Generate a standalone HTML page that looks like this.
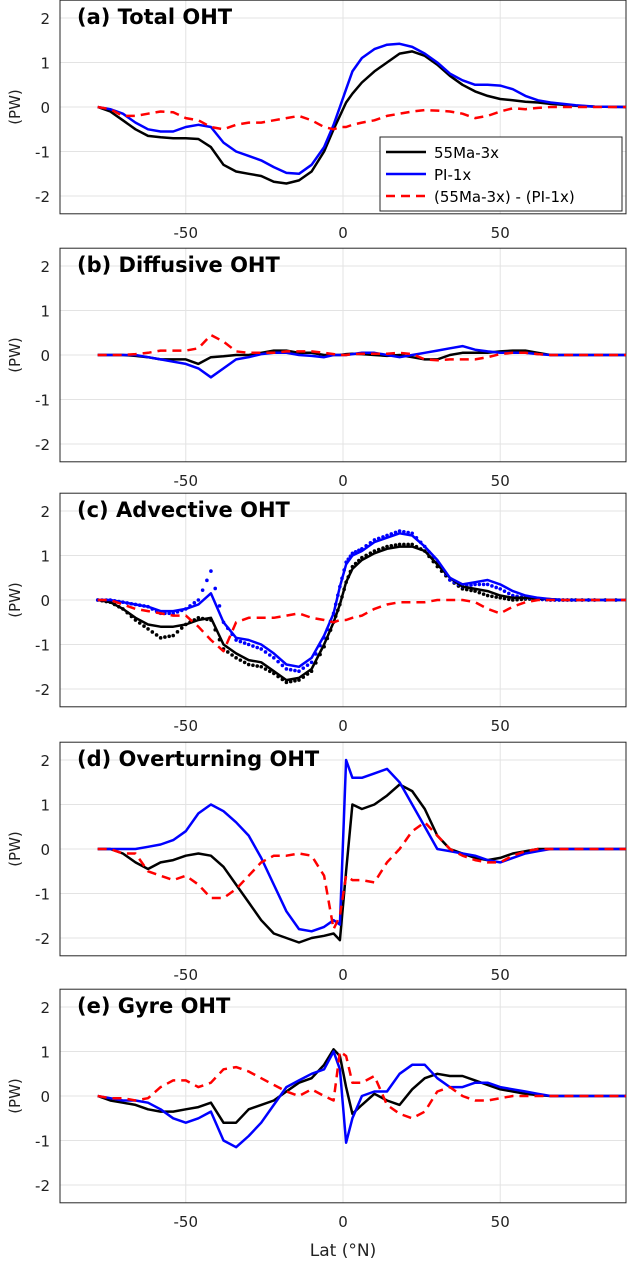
<!DOCTYPE html>
<html><head><meta charset="utf-8"><style>
body{margin:0;background:#fff;}
svg{display:block;font-family:"DejaVu Sans","Liberation Sans",sans-serif;}
</style></head><body>
<svg id="chart" width="627" height="1263" viewBox="0 0 627 1263"></svg>
<script>
const lats=[-78,-74,-70,-66,-62,-58,-54,-50,-46,-42,-38,-34,-30,-26,-22,-18,-14,-10,-6,-3,-1,1,3,6,10,14,18,22,26,30,34,38,42,46,50,54,58,62,66,70,74,80,90];
const xTicks=[-50,0,50];
const yTicks=[-2,-1,0,1,2];
const titles=["(a) Total OHT","(b) Diffusive OHT","(c) Advective OHT","(d) Overturning OHT","(e) Gyre OHT"];
const legendLabels=["55Ma-3x","PI-1x","(55Ma-3x) - (PI-1x)"];
const aBlack=[0,-0.1,-0.3,-0.5,-0.65,-0.68,-0.7,-0.7,-0.72,-0.9,-1.3,-1.45,-1.5,-1.55,-1.68,-1.72,-1.65,-1.45,-1.0,-0.5,-0.2,0.1,0.3,0.55,0.8,1.0,1.2,1.25,1.15,0.95,0.7,0.5,0.35,0.25,0.18,0.15,0.12,0.1,0.07,0.05,0.03,0.01,0];
const aBlue=[0,-0.05,-0.15,-0.35,-0.5,-0.55,-0.55,-0.45,-0.4,-0.45,-0.8,-1.0,-1.1,-1.2,-1.35,-1.48,-1.5,-1.3,-0.9,-0.4,0,0.4,0.8,1.1,1.3,1.4,1.42,1.35,1.2,1.0,0.75,0.6,0.5,0.5,0.48,0.4,0.25,0.15,0.1,0.07,0.04,0.01,0];
const aDiff=[0,-0.05,-0.2,-0.2,-0.15,-0.1,-0.12,-0.25,-0.3,-0.45,-0.5,-0.4,-0.35,-0.35,-0.3,-0.25,-0.2,-0.3,-0.45,-0.5,-0.45,-0.45,-0.4,-0.35,-0.3,-0.2,-0.15,-0.1,-0.07,-0.08,-0.1,-0.15,-0.25,-0.2,-0.1,-0.03,-0.05,-0.02,0,0,0,0,0];
const bBlack=[0,0,0,-0.02,-0.05,-0.1,-0.1,-0.1,-0.2,-0.05,-0.03,0,0,0.05,0.1,0.1,0.05,0.05,0,0,0,0.02,0.03,0.02,0,-0.02,0,-0.05,-0.1,-0.1,0,0.05,0.05,0.05,0.08,0.1,0.1,0.05,0,0,0,0,0];
const bBlue=[0,0,0,0,-0.05,-0.1,-0.15,-0.2,-0.3,-0.5,-0.3,-0.1,-0.05,0.02,0.05,0.05,0,-0.02,-0.05,0,0,0,0.02,0.05,0.05,0,-0.05,0,0.05,0.1,0.15,0.2,0.12,0.08,0.05,0.05,0.05,0.02,0,0,0,0,0];
const bDiff=[0,0,0,0.02,0.05,0.1,0.1,0.1,0.15,0.45,0.3,0.08,0.05,0.05,0.05,0.08,0.08,0.08,0.05,0.02,0,0,0.02,0.03,0.03,0.03,0.05,0.02,-0.1,-0.12,-0.1,-0.1,-0.1,-0.05,0.02,0.05,0.05,0.02,0,0,0,0,0];
const cBlack=[0,-0.05,-0.2,-0.4,-0.55,-0.6,-0.6,-0.55,-0.45,-0.4,-1.0,-1.2,-1.35,-1.4,-1.6,-1.8,-1.75,-1.55,-1.0,-0.5,-0.1,0.4,0.7,0.9,1.05,1.15,1.2,1.2,1.1,0.8,0.5,0.3,0.25,0.2,0.1,0.05,0.05,0.03,0.02,0,0,0,0];
const cBlackDot=[0,-0.05,-0.2,-0.45,-0.65,-0.85,-0.8,-0.55,-0.4,-0.45,-1.1,-1.3,-1.45,-1.5,-1.65,-1.85,-1.8,-1.6,-1.05,-0.5,-0.1,0.4,0.75,0.95,1.1,1.2,1.25,1.25,1.1,0.75,0.45,0.25,0.2,0.1,0.05,0,0.02,0.02,0,0,0,0,0];
const cBlue=[0,0,-0.05,-0.1,-0.15,-0.25,-0.25,-0.2,-0.1,0.15,-0.5,-0.85,-0.9,-1.0,-1.2,-1.45,-1.5,-1.3,-0.8,-0.3,0.3,0.8,1.0,1.1,1.3,1.4,1.5,1.45,1.2,0.9,0.5,0.35,0.4,0.45,0.35,0.2,0.1,0.05,0.02,0,0,0,0];
const cBlueDot=[0,0,-0.05,-0.1,-0.15,-0.3,-0.3,-0.2,0,0.65,-0.5,-0.9,-1.0,-1.1,-1.3,-1.55,-1.6,-1.4,-0.85,-0.3,0.3,0.85,1.05,1.15,1.35,1.45,1.55,1.5,1.2,0.85,0.45,0.3,0.35,0.35,0.25,0.1,0.05,0.02,0,0,0,0,0];
const cDiff=[0,0,-0.1,-0.2,-0.25,-0.3,-0.35,-0.35,-0.6,-0.9,-1.15,-0.5,-0.4,-0.4,-0.4,-0.35,-0.3,-0.4,-0.45,-0.5,-0.45,-0.45,-0.4,-0.35,-0.2,-0.1,-0.05,-0.05,-0.05,0,0,0,-0.05,-0.2,-0.3,-0.15,-0.05,0,0,0,0,0,0];
const dBlack=[0,0,-0.1,-0.3,-0.45,-0.3,-0.25,-0.15,-0.1,-0.15,-0.4,-0.8,-1.2,-1.6,-1.9,-2.0,-2.1,-2.0,-1.95,-1.9,-2.05,-0.5,1.0,0.9,1.0,1.2,1.45,1.3,0.9,0.3,0,-0.1,-0.2,-0.25,-0.2,-0.1,-0.05,0,0,0,0,0,0];
const dBlue=[0,0,0,0,0.05,0.1,0.2,0.4,0.8,1.0,0.85,0.6,0.3,-0.2,-0.8,-1.4,-1.8,-1.85,-1.75,-1.6,-1.7,2.0,1.6,1.6,1.7,1.8,1.5,1.0,0.5,0,-0.05,-0.1,-0.15,-0.25,-0.3,-0.2,-0.1,-0.05,0,0,0,0,0];
const dDiff=[0,0,-0.1,-0.1,-0.5,-0.6,-0.7,-0.6,-0.8,-1.1,-1.1,-0.9,-0.6,-0.3,-0.15,-0.15,-0.1,-0.15,-0.6,-1.8,-1.5,-0.6,-0.7,-0.7,-0.75,-0.3,0,0.4,0.6,0.3,0,-0.15,-0.25,-0.3,-0.3,-0.15,-0.05,0,0,0,0,0,0];
const eBlack=[0,-0.1,-0.15,-0.2,-0.3,-0.35,-0.35,-0.3,-0.25,-0.15,-0.6,-0.6,-0.3,-0.2,-0.1,0.1,0.3,0.4,0.7,1.05,0.9,0.2,-0.4,-0.2,0.05,-0.1,-0.2,0.15,0.4,0.5,0.45,0.45,0.35,0.25,0.15,0.1,0.05,0.02,0,0,0,0,0];
const eBlue=[0,-0.05,-0.1,-0.1,-0.15,-0.3,-0.5,-0.6,-0.5,-0.35,-1.0,-1.15,-0.9,-0.6,-0.2,0.2,0.35,0.5,0.6,1.0,0.6,-1.05,-0.5,0,0.1,0.1,0.5,0.7,0.7,0.4,0.2,0.2,0.3,0.3,0.2,0.15,0.1,0.05,0,0,0,0,0];
const eDiff=[0,-0.05,-0.05,-0.1,-0.05,0.2,0.35,0.35,0.2,0.3,0.6,0.65,0.55,0.4,0.25,0.1,0,0.15,0,-0.1,1.0,0.9,0.3,0.3,0.45,-0.2,-0.4,-0.5,-0.35,0.1,0.2,0,-0.1,-0.1,-0.05,0,0,0,0,0,0,0,0];
const panels=[
 {k:"a",s:[[aBlack,"#000","solid"],[aBlue,"#0000ff","solid"],[aDiff,"#ff0000","dash"]]},
 {k:"b",s:[[bBlack,"#000","solid"],[bBlue,"#0000ff","solid"],[bDiff,"#ff0000","dash"]]},
 {k:"c",s:[[cBlackDot,"#000","dot"],[cBlueDot,"#0000ff","dot"],[cBlack,"#000","solid"],[cBlue,"#0000ff","solid"],[cDiff,"#ff0000","dash"]]},
 {k:"d",s:[[dBlack,"#000","solid"],[dBlue,"#0000ff","solid"],[dDiff,"#ff0000","dash"]]},
 {k:"e",s:[[eBlack,"#000","solid"],[eBlue,"#0000ff","solid"],[eDiff,"#ff0000","dash"]]}
];
const NS="http://www.w3.org/2000/svg";
const svg=document.getElementById("chart");
const X0=60,X1=626;
const zeros=[107,355,600,849,1096];
const PU=44.5;
function xs(l){return X0+(l+90)/180*(X1-X0);}
function mk(t,a,p){const e=document.createElementNS(NS,t);for(const k in a)e.setAttribute(k,a[k]);(p||svg).appendChild(e);return e;}
panels.forEach((p,i)=>{
 const z=zeros[i];const top=z-2.4*PU,bot=z+2.4*PU;
 const ys=v=>z-v*PU;
 const g=mk("g",{});
 
 
 xTicks.forEach(t=>{const l=mk("line",{x1:xs(t),x2:xs(t),y1:top,y2:bot,stroke:"#e3e3e3","stroke-width":1},g);
  
  const tx=mk("text",{x:xs(t),y:bot+24,"text-anchor":"middle","font-size":15,fill:"#222"},g);tx.textContent=t;
  });
 yTicks.forEach(t=>{const l=mk("line",{x1:X0,x2:X1,y1:ys(t),y2:ys(t),stroke:"#e3e3e3","stroke-width":1},g);
  
  const tx=mk("text",{x:X0-10,y:ys(t)+6,"text-anchor":"end","font-size":15,fill:"#222"},g);tx.textContent=t;
  });
 const fr=mk("rect",{x:X0,y:top,width:X1-X0,height:bot-top,fill:"none",stroke:"#262626","stroke-width":1},g);
 
 const yl=mk("text",{x:0,y:0,transform:`translate(20,${z}) rotate(-90)`,"text-anchor":"middle","font-size":15,fill:"#222"},g);yl.textContent="(PW)";
 
 p.s.forEach(([arr,c,st])=>{
  if(st==="dot"){arr.forEach((v,j)=>{if(j>0){const l0=lats[j-1],v0=arr[j-1];for(let f=0;f<1;f+=0.34){const d=mk("circle",{cx:xs(l0+(lats[j]-l0)*f),cy:ys(v0+(v-v0)*f),r:1.8,fill:c},g);}}});return;}
  const pts=arr.map((v,j)=>xs(lats[j]).toFixed(1)+","+ys(v).toFixed(1)).join(" ");
  const pl=mk("polyline",{points:pts,fill:"none",stroke:c,"stroke-width":2.5,"stroke-linejoin":"round","stroke-dasharray":st==="dash"?"9,6":"none"},g);
  
  
 });
 const tt=mk("text",{x:77,y:top+24,"font-size":21,"font-weight":"bold",fill:"#000"},g);tt.textContent=titles[i];
 
});
const lg=mk("g",{});


mk("rect",{x:380,y:137,width:242,height:74,fill:"#fff",stroke:"#262626","stroke-width":1},lg);
const lc=[["#000","none"],["#0000ff","none"],["#ff0000","9,6"]];
legendLabels.forEach((t,i)=>{const y=152+i*22;
 const l=mk("line",{x1:386,x2:426,y1:y,y2:y,stroke:lc[i][0],"stroke-width":2.5,"stroke-dasharray":lc[i][1]},lg);
 
 const tx=mk("text",{x:434,y:y+6,"font-size":15,fill:"#000"},lg);tx.textContent=t;
 });
const xl=mk("text",{x:343,y:1256,"text-anchor":"middle","font-size":17,fill:"#222"});xl.textContent="Lat (°N)";


</script>
</body></html>
